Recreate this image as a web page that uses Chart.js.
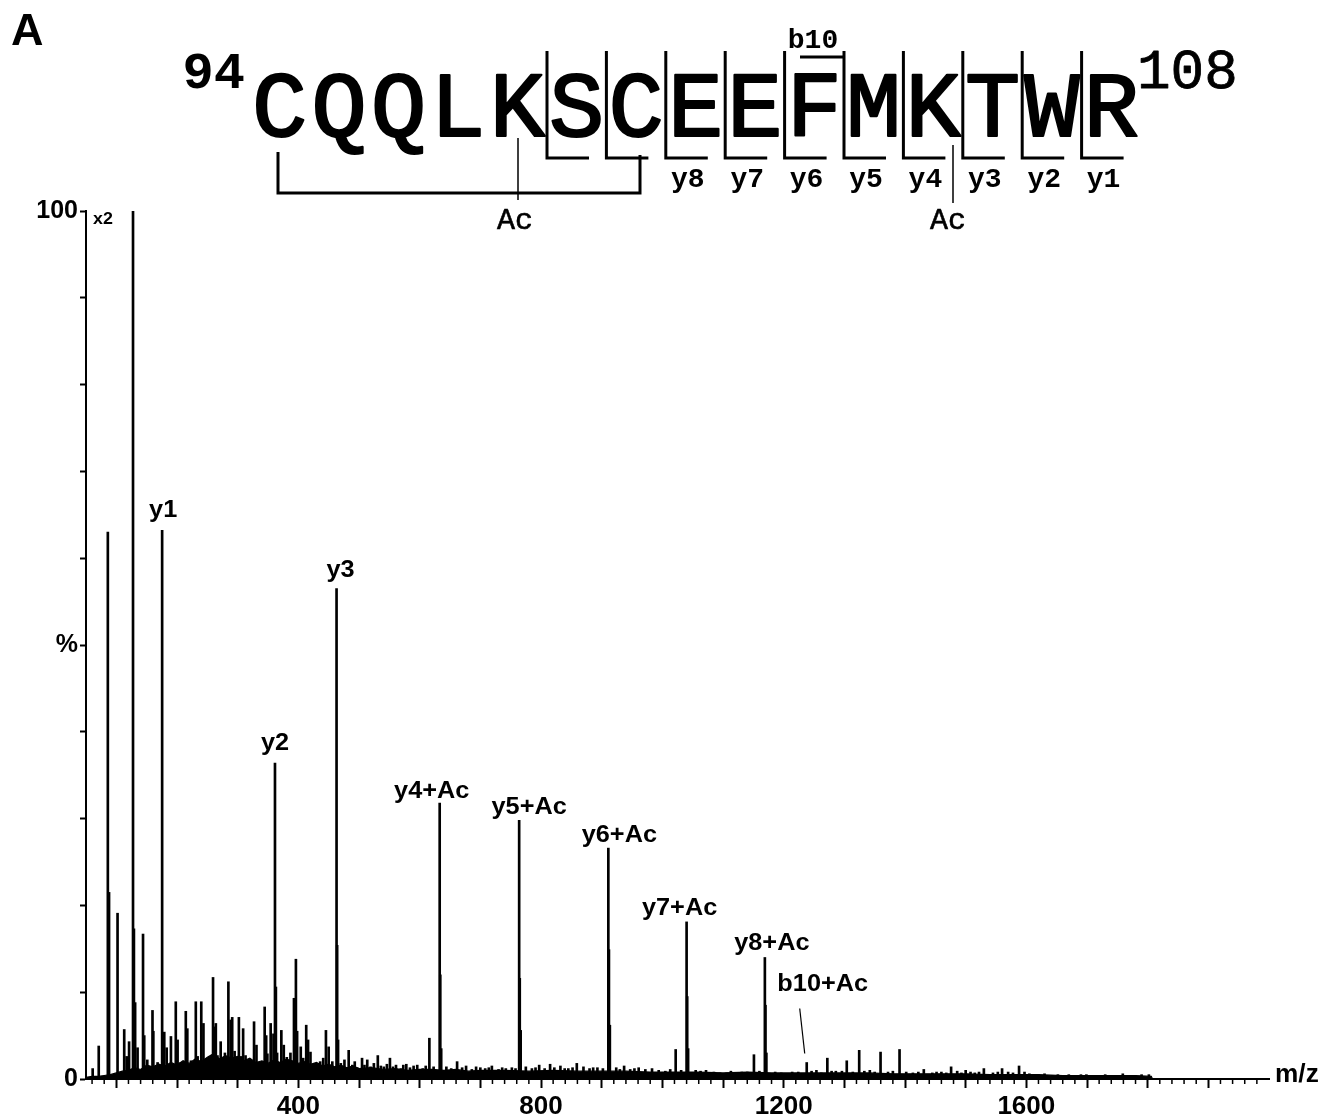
<!DOCTYPE html>
<html>
<head>
<meta charset="utf-8">
<script src="https://cdn.jsdelivr.net/npm/chart.js@4.4.0/dist/chart.umd.min.js"></script>
<style>
  html, body { margin: 0; padding: 0; background: #fff; }
</style>
</head>
<body>
<canvas id="myChart" width="1341" height="1120"></canvas>
<script>
// peptide shown above the spectrum
const sequence = 'CQQLKSCEEFMKTWR';
const seqFirst = '94';
const seqLast = '108';
const yIonNames = ['y8', 'y7', 'y6', 'y5', 'y4', 'y3', 'y2', 'y1'];
const yIonCuts = [7, 8, 9, 10, 11, 12, 13, 14];
const plainCuts = [5, 6];

// labelled fragment peaks (m/z, % intensity)
const ionNames = ['y1', 'y2', 'y3', 'y4+Ac', 'y5+Ac', 'y6+Ac', 'y7+Ac', 'y8+Ac', 'b10+Ac'];
const ionMz = [175.5, 361.5, 463, 633, 764, 911, 1040, 1169, 1238];
const ionInt = [63.2, 36.4, 56.5, 31.8, 29.8, 26.6, 18.1, 14.0, 1.9];

// all other peaks
const peakMz = [
  61, 71, 86, 88, 102, 113, 117, 121, 127.5, 129, 131, 135, 144, 146, 151, 159.6, 161, 168,
  179, 183, 190, 198, 201, 206, 214.5, 217, 223, 231, 234, 240, 243.6, 250, 259.4, 261, 264,
  266.7, 272, 276.5, 279, 284.7, 288.6, 291, 295, 302, 305, 309, 313, 321.5, 327, 331, 338,
  344.5, 347, 349, 354.4, 359, 363, 365, 372, 376, 381, 387, 392.8, 396, 398, 404, 408, 413,
  416, 420, 428.5, 436, 441, 445.5, 450, 456, 464, 465.5, 470, 476, 483, 489, 493, 497,
  505, 509, 513.6, 519, 524.5, 531, 536, 541, 546, 551, 556, 561, 569, 573, 578, 584, 590,
  596, 605, 610, 616, 623, 634, 635.5, 644, 652, 661.7, 670, 676.5, 686, 693, 700, 708, 714,
  719, 730, 736, 742, 752, 758, 765, 766.5, 775, 785, 791, 797, 806, 815, 822, 832, 839, 845,
  852, 859, 870, 880, 886, 893, 902, 912, 913.5, 924, 930, 937, 947, 954, 961, 972, 983, 994,
  1005, 1013, 1022, 1031, 1041, 1042.5, 1055, 1063, 1072, 1085, 1095, 1106, 1113, 1120, 1131,
  1140, 1151, 1160, 1170, 1171.5, 1186, 1196, 1205, 1214, 1224, 1246, 1254, 1262, 1272, 1279,
  1286, 1296, 1304, 1314, 1324.5, 1333, 1342, 1350, 1359.7, 1372, 1380, 1391, 1402, 1413,
  1422, 1431, 1445, 1452, 1460, 1468, 1476, 1486, 1493, 1500, 1508, 1515, 1522, 1530, 1545,
  1553, 1560, 1570, 1578, 1588, 1597, 1605, 1620, 1630, 1643, 1652, 1660, 1670, 1680, 1690,
  1699, 1710, 1720, 1730, 1740, 1750, 1759, 1770, 1780, 1790, 1802
];
const peakInt = [
  1.2, 3.8, 63.0, 21.5, 19.1, 5.7, 2.6, 4.3, 100, 17.3, 8.8, 3.6, 16.7, 5.0, 2.2, 7.9, 5.5, 1.9,
  5.4, 3.6, 4.9, 8.9, 4.5, 1.9, 7.8, 5.8, 2.1, 8.9, 2.6, 8.9, 6.4, 1.9, 11.7, 6.0, 6.4,
  2.7, 4.3, 1.9, 3.0, 11.2, 6.8, 7.1, 3.2, 7.1, 2.6, 5.8, 2.7, 2.2, 6.6, 3.9, 1.9,
  8.3, 5.0, 2.9, 6.4, 5.2, 10.6, 3.0, 5.6, 3.9, 2.5, 3.0, 9.3, 13.8, 5.5, 3.7, 2.4, 6.2,
  4.5, 3.1, 1.8, 2.0, 2.4, 5.6, 3.7, 2.0, 15.4, 4.5, 1.8, 2.2, 3.3, 1.6, 2.0, 1.3,
  2.4, 1.6, 2.2, 1.4, 1.8, 2.7, 1.5, 1.4, 1.7, 2.4, 1.4, 1.6, 1.2, 1.6, 1.7, 1.3, 1.5,
  1.6, 1.2, 1.5, 4.7, 1.4, 12.0, 3.5, 1.4, 1.2, 2.0, 1.3, 1.5, 1.1, 1.4, 1.3, 1.2, 1.3,
  1.5, 1.1, 1.3, 1.2, 1.3, 1.2, 11.6, 5.6, 1.4, 1.2, 1.3, 1.6, 1.2, 1.7, 1.3, 1.5, 1.2, 1.2,
  1.3, 1.8, 1.4, 1.2, 1.3, 1.3, 1.2, 14.9, 6.2, 1.3, 1.1, 1.5, 1.1, 1.2, 1.3, 1.1, 1.2, 1.0,
  0.9, 1.1, 3.4, 1.0, 9.5, 3.5, 1.0, 0.9, 1.0, 0.8, 0.7, 0.7, 0.9, 0.7, 0.8,
  0.8, 2.8, 0.9, 8.5, 3.0, 0.8, 0.7, 0.6, 0.8, 0.8, 0.9, 1.0, 0.7, 2.4, 0.9,
  0.9, 0.9, 2.1, 0.8, 3.3, 0.9, 1.0, 0.8, 3.1, 0.8, 0.9, 3.4, 0.8, 0.7,
  0.8, 1.1, 0.7, 0.8, 0.8, 0.7, 1.4, 0.9, 0.7, 1.0, 0.8, 0.7, 0.8, 1.2, 0.7,
  0.8, 1.2, 0.8, 0.7, 1.5, 0.8, 0.6, 0.5, 0.6, 0.4, 0.5, 0.4, 0.5, 0.4, 0.5,
  0.5, 0.4, 0.4, 0.5, 0.4, 0.4, 0.6, 0.4, 0.4, 0.5, 0.5
];

// baseline noise band
const baseMz = [
  50, 60, 70, 80, 90, 100, 110, 120, 130, 140,
  150, 160, 170, 180, 190, 200, 210, 220, 230, 240,
  250, 260, 270, 280, 290, 300, 310, 320, 330, 340,
  350, 360, 370, 380, 390, 400, 410, 420, 430, 440,
  450, 460, 470, 480, 490, 500,
  520, 540, 560, 580, 600, 620, 640, 660, 680, 700,
  740, 780, 820, 860, 900, 940, 980, 1020, 1060, 1100,
  1140, 1180, 1220, 1260, 1300, 1340, 1380, 1420, 1460, 1500,
  1540, 1580, 1620, 1660, 1700, 1740, 1780,
  1806, 1808
];
const baseInt = [
  0.2, 0.3, 0.3, 0.4, 0.5, 0.7, 0.9, 1.0, 1.3, 1.1,
  1.6, 1.4, 1.7, 1.5, 1.9, 1.6, 2.1, 1.8, 2.3, 2.0,
  2.5, 2.9, 2.3, 2.7, 2.4, 2.6, 2.1, 2.4, 1.9, 2.1,
  1.8, 2.2, 1.9, 2.3, 2.1, 1.8, 2.0, 1.7, 1.9, 1.5,
  1.7, 1.4, 1.6, 1.3, 1.5, 1.2,
  1.3, 1.1, 1.2, 1.0, 1.1, 1.1, 1.0, 1.1, 0.9, 1.0,
  1.0, 0.9, 1.0, 0.9, 0.9, 0.9, 0.8, 0.8, 0.8, 0.7,
  0.8, 0.7, 0.7, 0.7, 0.7, 0.7, 0.6, 0.6, 0.6, 0.6,
  0.5, 0.5, 0.5, 0.4, 0.4, 0.4, 0.4,
  0.3, 0
];

// axis labels
const xTickLabels = [400, 800, 1200, 1600];
const yTickValues = [0, 50, 100];
const yTickText = ['0', '%', '100'];

// label placement next to each labelled peak (pixels)
const ionDx = [1, 0, 4, -8, 10, 11, -7, 7, 16];
const ionDy = [-13, -13, -12, -5, -6, -6, -7, -7, -72];

const SANS = '"Liberation Sans", Arial, sans-serif';
const MONO = '"Liberation Mono", "Courier New", monospace';

function drawText(ctx, s, x, y, font, sx, align, stroke) {
  ctx.save();
  ctx.font = font;
  ctx.textAlign = align;
  ctx.textBaseline = 'alphabetic';
  ctx.fillStyle = '#000';
  ctx.translate(x, y);
  ctx.scale(sx, 1);
  ctx.fillText(s, 0, 0);
  if (stroke) {
    // thicken thin glyphs a bit
    ctx.strokeStyle = '#000';
    ctx.lineWidth = stroke;
    ctx.lineJoin = 'round';
    ctx.strokeText(s, 0, 0);
  }
  ctx.restore();
}

const decor = {
  id: 'decor',
  afterDraw(chart) {
    const ctx = chart.ctx;
    const x = chart.scales.x;
    const y = chart.scales.y;
    ctx.save();
    ctx.strokeStyle = '#000';

    // minor ticks on m/z axis
    ctx.lineWidth = 1.5;
    ctx.beginPath();
    for (let v = 60; v < 2000; v += 20) {
      if (v % 100 === 0) continue;
      const px = x.getPixelForValue(v);
      ctx.moveTo(px, y.bottom);
      ctx.lineTo(px, y.bottom + 5);
    }
    ctx.stroke();

    drawText(ctx, 'm/z', x.right + 6, y.bottom + 3, 'bold 25px ' + SANS, 1.05, 'left');
    drawText(ctx, 'x2', x.left + 7, y.top + 13, 'bold 17px ' + SANS, 1.05, 'left');

    // fragment labels
    for (let i = 0; i < ionNames.length; i++) {
      const px = x.getPixelForValue(ionMz[i]);
      const py = y.getPixelForValue(ionInt[i]);
      drawText(ctx, ionNames[i], px + ionDx[i], py + ionDy[i], 'bold 23px ' + SANS, 1.1, 'center');
      if (ionNames[i] === 'b10+Ac') {
        ctx.lineWidth = 1.2;
        ctx.beginPath();
        ctx.moveTo(px - 7, py - 54);
        ctx.lineTo(px - 2, py - 9);
        ctx.stroke();
      }
    }

    // panel letter
    drawText(ctx, 'A', 11, 45, 'bold 45px ' + SANS, 1, 'left');

    // peptide sequence
    const pitch = 59.4, left = 250, base = 136;
    for (let i = 0; i < sequence.length; i++) {
      drawText(ctx, sequence[i], left + pitch * i + pitch / 2, base, '92px ' + MONO, 1, 'center', 2.2);
    }
    drawText(ctx, seqFirst, 245, 88, 'bold 52px ' + MONO, 1, 'right');
    drawText(ctx, seqLast, 1137, 88, '56px ' + MONO, 1, 'left', 0.8);

    // cleavage brackets
    ctx.lineWidth = 3;
    ctx.beginPath();
    plainCuts.concat(yIonCuts).forEach(function(c) {
      const bx = left + pitch * c;
      ctx.moveTo(bx, 51);
      ctx.lineTo(bx, 158);
      ctx.lineTo(bx + 42, 158);
    });
    // b10
    ctx.moveTo(800, 57);
    ctx.lineTo(left + pitch * 10, 57);
    // disulfide bracket
    ctx.moveTo(278, 152);
    ctx.lineTo(278, 193);
    ctx.lineTo(640, 193);
    ctx.lineTo(640, 155);
    ctx.stroke();

    yIonCuts.forEach(function(c, i) {
      drawText(ctx, yIonNames[i], left + pitch * c + 22, 187, 'bold 28px ' + MONO, 1, 'center');
    });
    drawText(ctx, 'b10', 813, 48, 'bold 28px ' + MONO, 1, 'center');

    // acetylation marks
    ctx.lineWidth = 1.5;
    ctx.beginPath();
    ctx.moveTo(518, 138); ctx.lineTo(518, 200);
    ctx.moveTo(953, 145); ctx.lineTo(953, 203);
    ctx.stroke();
    drawText(ctx, 'Ac', 515, 229, '30px ' + MONO, 1, 'center', 0.6);
    drawText(ctx, 'Ac', 948, 229, '30px ' + MONO, 1, 'center', 0.6);

    ctx.restore();
  }
};

window.onload = function() {
  var ctx = document.getElementById('myChart').getContext('2d');

  var peaks = peakMz.map(function(m, i) { return { x: m, y: peakInt[i] }; })
    .concat(ionMz.map(function(m, i) { return { x: m, y: ionInt[i] }; }));
  var baseline = baseMz.map(function(m, i) { return { x: m, y: baseInt[i] }; });

  new Chart(ctx, {
    type: 'bar',
    data: {
      datasets: [
        {
          type: 'line',
          data: baseline,
          borderColor: '#000',
          backgroundColor: '#000',
          borderWidth: 1.2,
          pointRadius: 0,
          fill: 'origin',
          tension: 0,
          order: 2,
        },
        {
          type: 'bar',
          data: peaks,
          backgroundColor: '#000',
          barThickness: 2,
          grouped: false,
          order: 1,
        },
      ],
    },
    options: {
      responsive: false,
      animation: false,
      layout: { padding: { top: 211, right: 72, bottom: 0, left: 0 } },
      plugins: { legend: { display: false }, tooltip: { enabled: false } },
      scales: {
        x: {
          type: 'linear',
          min: 50,
          max: 2000,
          offset: false,
          afterBuildTicks: function(s) {
            s.ticks = [];
            for (let v = 100; v < 2000; v += 100) s.ticks.push({ value: v });
          },
          afterFit: function(s) { s.height = 41; },
          grid: { drawOnChartArea: false, offset: false, tickLength: 9, tickWidth: 2, tickColor: '#000' },
          border: { color: '#000', width: 2 },
          ticks: {
            autoSkip: false,
            maxRotation: 0,
            padding: 3,
            color: '#000',
            font: { family: SANS, size: 26, weight: 'bold' },
            callback: function(v) { return xTickLabels.indexOf(v) >= 0 ? String(v) : ''; },
          },
        },
        y: {
          min: 0,
          max: 100,
          afterBuildTicks: function(s) {
            s.ticks = [];
            for (let v = 0; v <= 100; v += 10) s.ticks.push({ value: v });
          },
          afterFit: function(s) { s.width = 86; },
          grid: { drawOnChartArea: false, tickLength: 6, tickWidth: 2, tickColor: '#000' },
          border: { color: '#000', width: 2 },
          ticks: {
            padding: 2,
            color: '#000',
            font: { family: SANS, size: 25, weight: 'bold' },
            callback: function(v) {
              var k = yTickValues.indexOf(v);
              return k < 0 ? '' : yTickText[k];
            },
          },
        },
      },
    },
    plugins: [decor],
  });
};
</script>
</body>
</html>
